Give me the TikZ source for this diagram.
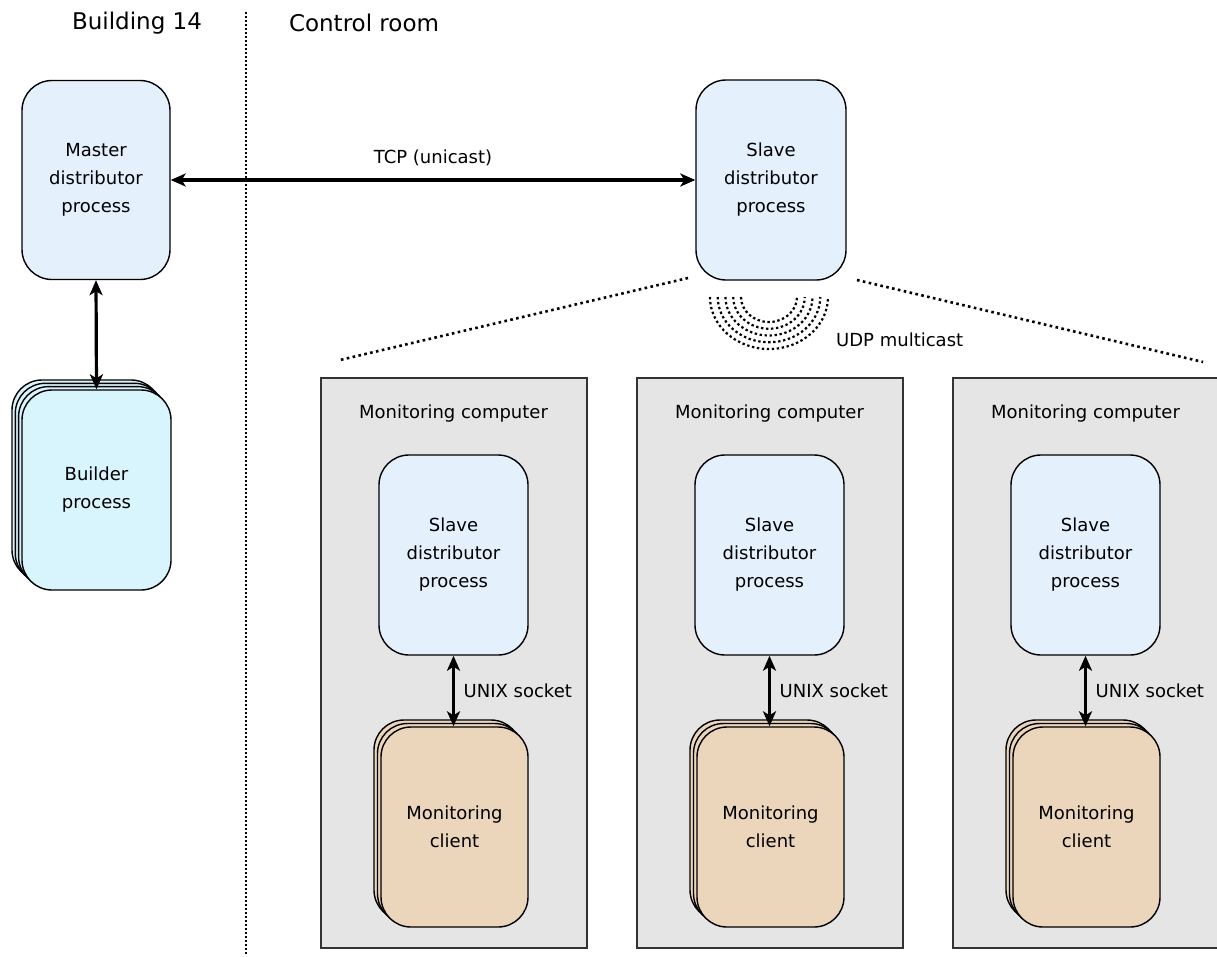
\documentclass[tikz,border=0pt]{standalone}
\usepackage{fontspec}
\setmainfont{DejaVu Sans}
\usetikzlibrary{arrows.meta}
\definecolor{procblue}{HTML}{E4F0FC}
\definecolor{buildcyan}{HTML}{D8F4FC}
\definecolor{clienttan}{HTML}{EBD5BB}
\definecolor{boxgray}{HTML}{E5E5E5}
\tikzset{
  proc/.style={draw=black, line width=1.4pt, rounded corners=30pt, align=center,
    minimum width=149pt, minimum height=200pt, inner sep=0pt,
    font=\fontsize{18}{28}\selectfont},
  slavebox/.style={proc, fill=procblue},
  builderbox/.style={proc, fill=buildcyan},
  clientbox/.style={proc, fill=clienttan, minimum width=147pt},
  computer/.style={draw=black!80, line width=1.4pt, fill=boxgray},
  lbl/.style={font=\fontsize{18}{22}\selectfont, inner sep=0pt},
  hdr/.style={font=\fontsize{23}{28}\selectfont, inner sep=0pt},
  link/.style={arrows={Stealth[length=15pt,width=13pt,inset=4pt]-Stealth[length=15pt,width=13pt,inset=4pt]}, line width=3.2pt},
  fan/.style={line width=2.6pt, dash pattern=on 2.6pt off 3.4pt},
  wave/.style={line width=2.2pt, dash pattern=on 2.4pt off 2.6pt},
}
\begin{document}
\begin{tikzpicture}[x=1pt,y=-1pt]
\useasboundingbox (0,0) rectangle (1217,956);
\fill[white] (0,0) rectangle (1217,956);

% separator
\draw[line width=1.3pt, dash pattern=on 2pt off 2pt] (246,12) -- (246,956);
\node[hdr] (hb) at (137,23) {Building 14};
\node[hdr] (hc) at (364,23) {Control room};

% master and top slave
\node[slavebox, minimum width=148pt, minimum height=199pt] (master) at (96,180) {Master\\distributor\\process};
\node[slavebox, minimum width=150pt] (slave0) at (771,180) {Slave\\distributor\\process};
\draw[link] (master.east) -- (slave0.west) node[midway, lbl, above=13pt] (tcp) {TCP (unicast)};

% builder stack
\node[builderbox] (builder3) at (86.5,480) {};
\node[builderbox] (builder2) at (89.8,483.3) {};
\node[builderbox] (builder1) at (93.1,486.6) {};
\node[builderbox] (builder) at (96.5,490) {Builder\\process};
\draw[link] (master.south) -- (builder.north);

% fan lines
\coordinate (fl1) at (688,278);
\coordinate (fl2) at (340,360);
\coordinate (fr1) at (857,280);
\coordinate (fr2) at (1203,362);
\draw[fan] (fl1) -- (fl2);
\draw[fan] (fr1) -- (fr2);

% multicast waves
\coordinate (wc) at (769,297);
\foreach \i in {0,...,4} {
  \pgfmathsetmacro{\rx}{28+7.75*\i}
  \pgfmathsetmacro{\ry}{25+6.75*\i}
  \draw[wave] ([xshift=-\rx pt]wc) arc[start angle=180, end angle=360, x radius=\rx pt, y radius=\ry pt];
}
\node[lbl, anchor=west] (udp) at (836,340) {UDP multicast};

% monitoring computers
\foreach \n/\x in {a/0, b/316, c/632} {
  \draw[computer] (321+\x,378) rectangle (587+\x,948);
  \node[lbl] (mc\n) at (453.5+\x,414) {Monitoring computer};
  \node[slavebox] (slave\n) at (453.5+\x,555) {Slave\\distributor\\process};
  \node[clientbox] (client\n2) at (447.5+\x,820) {};
  \node[clientbox] (client\n1) at (451+\x,823.5) {};
  \node[clientbox] (client\n) at (454.5+\x,827) {Monitoring\\client};
  \draw[link] (slave\n.south) -- (slave\n.south |- client\n.north) coordinate[pos=0.5] (mid\n);
  \node[lbl, anchor=west] (unix\n) at ([xshift=10pt]mid\n) {UNIX socket};
}
\end{tikzpicture}
\end{document}
